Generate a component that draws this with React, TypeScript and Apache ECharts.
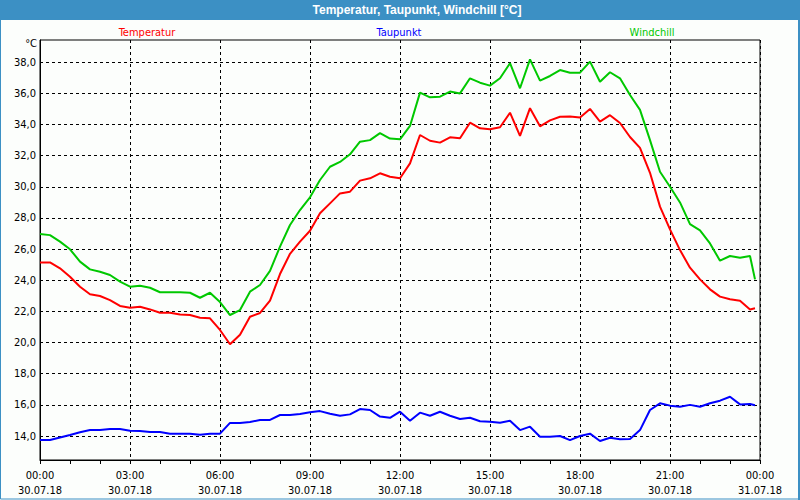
import React, { useEffect, useRef } from "react";
import * as echarts from "echarts";

// minutes after 30.07.18 00:00
const minutes = [
  0, 20, 40, 60, 80, 100, 120, 140, 160, 180, 200, 220, 240, 260, 280, 300, 320, 340,
  360, 380, 400, 420, 440, 460, 480, 500, 520, 540, 560, 580, 600, 620, 640, 660, 680, 700,
  720, 740, 760, 780, 800, 820, 840, 860, 880, 900, 920, 940, 960, 980, 1000, 1020, 1040, 1060,
  1080, 1100, 1120, 1140, 1160, 1180, 1200, 1220, 1240, 1260, 1280, 1300, 1320, 1340, 1360, 1380,
  1400, 1420, 1430,
];

const temperatur = [
  25.15, 25.15, 24.77, 24.23, 23.59, 23.1, 22.99, 22.73, 22.35, 22.24, 22.3, 22.13, 21.92, 21.92,
  21.81, 21.77, 21.6, 21.56, 20.81, 19.89, 20.5, 21.66, 21.9, 22.7, 24.4, 25.7, 26.48, 27.18,
  28.3, 28.94, 29.58, 29.69, 30.4, 30.55, 30.87, 30.65, 30.55, 31.51, 33.33, 32.96, 32.84, 33.18,
  33.12, 34.12, 33.76, 33.7, 33.83, 34.76, 33.27, 35.05, 33.89, 34.27, 34.5, 34.51, 34.46, 35.0,
  34.19, 34.6, 34.1, 33.2, 32.5, 30.9, 28.73, 27.27, 25.94, 24.81, 24.06, 23.42, 22.95, 22.78,
  22.69, 22.13, 22.2,
];

const taupunkt = [
  13.74, 13.74, 13.91, 14.06, 14.24, 14.38, 14.38, 14.45, 14.45, 14.34, 14.32, 14.26, 14.26, 14.15,
  14.15, 14.15, 14.08, 14.15, 14.15, 14.84, 14.84, 14.9, 15.03, 15.03, 15.35, 15.35, 15.41, 15.52,
  15.6, 15.43, 15.3, 15.39, 15.73, 15.67, 15.25, 15.17, 15.56, 14.98, 15.5, 15.3, 15.56, 15.3,
  15.09, 15.17, 14.95, 14.92, 14.85, 14.98, 14.38, 14.6, 13.95, 13.95, 14.0, 13.74, 14.0, 14.15,
  13.68, 13.89, 13.79, 13.81, 14.38, 15.67, 16.1, 15.95, 15.88, 16.0, 15.88, 16.1, 16.27, 16.52,
  16.03, 16.05, 15.98,
];

const windchill = [
  26.97, 26.9, 26.48, 25.99, 25.2, 24.7, 24.55, 24.34, 23.91, 23.59, 23.65, 23.52, 23.23, 23.23,
  23.23, 23.2, 22.88, 23.2, 22.6, 21.77, 22.09, 23.27, 23.7, 24.6, 26.16, 27.55, 28.51, 29.33,
  30.44, 31.29, 31.6, 32.09, 32.9, 33.0, 33.45, 33.1, 33.05, 33.91, 36.05, 35.75, 35.79, 36.12,
  36.0, 36.97, 36.69, 36.5, 36.97, 37.94, 36.33, 38.19, 36.82, 37.12, 37.5, 37.33, 37.33, 38.04,
  36.75, 37.36, 36.97, 35.9, 34.94, 33.0, 30.97, 30.01, 29.0, 27.61, 27.2, 26.37, 25.26, 25.56,
  25.45, 25.56, 24.06,
];

const yTicks = [14, 16, 18, 20, 22, 24, 26, 28, 30, 32, 34, 36, 38];
const dayOne = "30.07.18";
const dayTwo = "31.07.18";
const titleText = "Temperatur, Taupunkt, Windchill [°C]";
const seriesNames = ["Temperatur", "Taupunkt", "Windchill"];
const seriesColors = ["#ff0000", "#0000ff", "#00c800"];

const pad = (n: number) => (n < 10 ? "0" + n : "" + n);

export default function App() {
  const ref = useRef<HTMLDivElement>(null);
  useEffect(() => {
    document.body.style.margin = "0";
    const chart = echarts.init(ref.current!, null, { renderer: "svg" });
    const font = "DejaVu Sans Condensed, DejaVu Sans";
    const dashed = { color: "#000", width: 1, type: [3, 3] as any };
    const mk = (arr: number[]) => minutes.map((m, i) => [m, arr[i]]);
    chart.setOption({
      animation: false,
      backgroundColor: "#fcfefc",
      grid: {
        left: 40,
        right: 40,
        top: 40,
        bottom: 40,
        show: true,
        borderColor: "#000",
        borderWidth: 1,
        backgroundColor: "transparent",
      },
      xAxis: {
        type: "value",
        min: 0,
        max: 1440,
        interval: 180,
        axisLine: { show: true, lineStyle: { color: "#000", width: 1 } },
        axisTick: { show: true, length: 4, lineStyle: { color: "#000" } },
        minorTick: { show: true, splitNumber: 3, length: 4, lineStyle: { color: "#000" } },
        splitLine: { show: true, lineStyle: dashed },
        axisLabel: {
          margin: 8,
          color: "#000",
          fontFamily: font,
          fontSize: 11,
          lineHeight: 15,
          formatter: (v: number) => {
            const h = Math.floor(v / 60) % 24;
            const m = v % 60;
            return pad(h) + ":" + pad(m) + "\n" + (v >= 1440 ? dayTwo : dayOne);
          },
        },
      },
      yAxis: {
        type: "value",
        min: 12.46,
        max: 39.43,
        axisLine: { show: true, lineStyle: { color: "#000", width: 1 } },
        axisTick: { show: false, customValues: yTicks },
        splitLine: { show: true, lineStyle: dashed },
        axisLabel: {
          customValues: yTicks,
          margin: 4,
          color: "#000",
          fontFamily: font,
          fontSize: 11,
          formatter: (v: number) => v.toFixed(1).replace(".", ","),
        },
      },
      graphic: [
        {
          type: "rect",
          shape: { x: 0, y: 0, width: 800, height: 20 },
          style: { fill: "#3c90c4" },
          silent: true,
        },
        {
          type: "rect",
          shape: { x: 0.5, y: 0.5, width: 798, height: 498.5 },
          style: { fill: "none", stroke: "#3c90c4", lineWidth: 1 },
          silent: true,
        },
        {
          type: "rect",
          shape: { x: 798, y: 0, width: 2, height: 500 },
          style: { fill: "#3c90c4" },
          silent: true,
        },
        {
          type: "text",
          x: 417,
          y: 10,
          style: {
            text: titleText,
            fill: "#fff",
            font: "bold 12px 'Liberation Sans'",
            textAlign: "center",
            textVerticalAlign: "middle",
          },
        },
        {
          type: "text",
          x: 37,
          y: 43,
          style: {
            text: "°C",
            fill: "#000",
            font: "11px 'DejaVu Sans Condensed', 'DejaVu Sans'",
            textAlign: "right",
            textVerticalAlign: "middle",
          },
        },
        ...[147, 399, 652].map((cx, i) => ({
          type: "text",
          x: cx,
          y: 32,
          style: {
            text: seriesNames[i],
            fill: seriesColors[i],
            font: "11px 'DejaVu Sans Condensed', 'DejaVu Sans'",
            textAlign: "center",
            textVerticalAlign: "middle",
          },
        })),
      ],
      series: [
        { name: seriesNames[0], type: "line", data: mk(temperatur), color: seriesColors[0] },
        { name: seriesNames[1], type: "line", data: mk(taupunkt), color: seriesColors[1] },
        { name: seriesNames[2], type: "line", data: mk(windchill), color: seriesColors[2] },
      ].map((s) => ({
        ...s,
        showSymbol: false,
        symbol: "none",
        lineStyle: { width: 2, color: s.color },
        z: 3,
      })),
    });
    return () => chart.dispose();
  }, []);
  return <div ref={ref} style={{ width: 800, height: 500 }} />;
}
